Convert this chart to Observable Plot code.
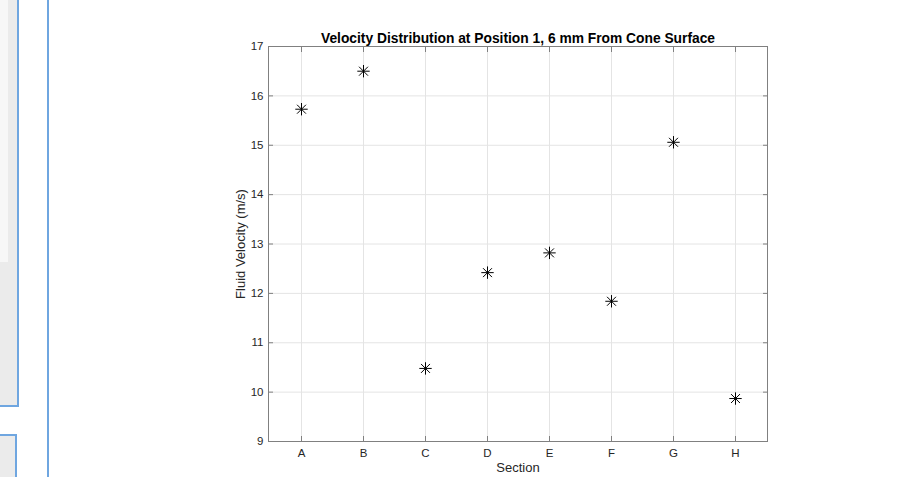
<!DOCTYPE html>
<html>
<head>
<meta charset="utf-8">
<script src="https://cdn.jsdelivr.net/npm/d3@7"></script>
<script src="https://cdn.jsdelivr.net/npm/@observablehq/plot@0.6"></script>
<style>
  html, body { margin: 0; padding: 0; background: #fff; }
  #wrap { position: relative; width: 900px; height: 477px; overflow: hidden; font-family: "Liberation Sans", Arial, Helvetica, sans-serif; }
  .deco { position: absolute; box-sizing: border-box; }
  #chart { position: absolute; left: 0; top: 0; }
</style>
</head>
<body>
<div id="wrap">
  <div class="deco" style="left:0;top:0;width:19px;height:407px;background:#ebebeb;border-right:2px solid #6fa6e0;border-bottom:2px solid #6fa6e0;"></div>
  <div class="deco" style="left:0;top:0;width:8px;height:262px;background:#f7f7f7;"></div>
  <div class="deco" style="left:0;top:434px;width:17px;height:50px;background:#ebebeb;border-right:2px solid #6fa6e0;border-top:2px solid #6fa6e0;"></div>
  <div class="deco" style="left:47px;top:0;width:2px;height:477px;background:#6fa6e0;"></div>
  <div id="chart"></div>
</div>
<script>
const sections = ["A", "B", "C", "D", "E", "F", "G", "H"];
const velocities = [15.73, 16.50, 10.48, 12.42, 12.82, 11.84, 15.06, 9.87];
const yTicks = [9, 10, 11, 12, 13, 14, 15, 16, 17];
const titleText = "Velocity Distribution at Position 1, 6 mm From Cone Surface";
const xLabel = "Section";
const yLabel = "Fluid Velocity (m/s)";

const data = sections.map((s, i) => ({section: s, velocity: velocities[i]}));

const asterisk = {
  draw(context, size) {
    const r = Math.sqrt(size / Math.PI);
    const d = r * 0.72;
    context.moveTo(-r, 0); context.lineTo(r, 0);
    context.moveTo(0, -r); context.lineTo(0, r);
    context.moveTo(-d, -d); context.lineTo(d, d);
    context.moveTo(-d, d); context.lineTo(d, -d);
  }
};

const frameColor = "#808080";
const gridColor = "#e4e4e4";
const textColor = "#262626";

const chart = Plot.plot({
  width: 900,
  height: 477,
  marginLeft: 268,
  marginRight: 133,
  marginTop: 46,
  marginBottom: 36,
  style: {fontFamily: "'Liberation Sans', Arial, Helvetica, sans-serif", fontSize: "11px", color: textColor, background: "transparent"},
  x: {type: "point", domain: sections, padding: 0.5, label: null},
  y: {domain: [9, 17], label: null},
  marks: [
    Plot.gridX(sections, {stroke: gridColor, strokeOpacity: 1}),
    Plot.gridY(yTicks, {stroke: gridColor, strokeOpacity: 1}),
    Plot.frame({stroke: frameColor}),
    Plot.axisX(sections, {anchor: "bottom", tickSize: -5, stroke: frameColor, tickFormat: () => ""}),
    Plot.axisX(sections, {anchor: "top", tickSize: -5, stroke: frameColor, tickFormat: () => ""}),
    Plot.axisY(yTicks, {anchor: "left", tickSize: -5, stroke: frameColor, tickFormat: () => ""}),
    Plot.axisY(yTicks, {anchor: "right", tickSize: -5, stroke: frameColor, tickFormat: () => ""}),
    Plot.axisX(sections, {anchor: "bottom", tickSize: 0, tickPadding: 7, label: null, fill: textColor, fontSize: 11.5}),
    Plot.axisY(yTicks, {anchor: "left", tickSize: 0, tickPadding: 5, label: null, fill: textColor, fontSize: 11.5}),
    Plot.dot(data, {x: "section", y: "velocity", symbol: asterisk, r: 6.2, stroke: "#000", strokeWidth: 1, fill: "none"}),
    Plot.text([titleText], {text: d => d, frameAnchor: "top", dy: -13, textAnchor: "middle", fontWeight: "bold", fontSize: 13.8, fill: "#000"}),
    Plot.text([xLabel], {text: d => d, frameAnchor: "bottom", dy: 30, textAnchor: "middle", fontSize: 13, fill: textColor}),
    Plot.text([yLabel], {text: d => d, frameAnchor: "left", dx: -28, textAnchor: "middle", rotate: -90, fontSize: 13, fill: textColor})
  ]
});
document.getElementById("chart").appendChild(chart);
</script>
</body>
</html>
